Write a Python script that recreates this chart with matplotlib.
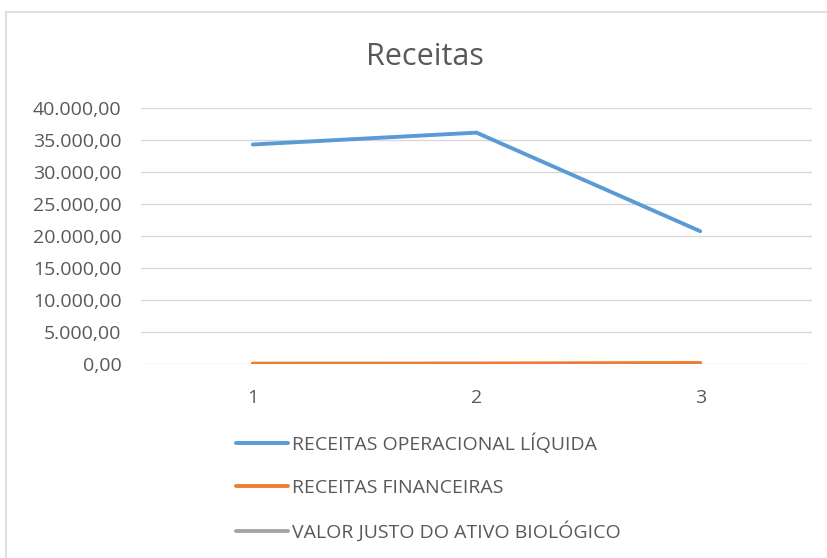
import matplotlib.pyplot as plt
from matplotlib.patches import Rectangle
from matplotlib.ticker import FuncFormatter, MultipleLocator

plt.rcParams["font.family"] = ["Open Sans", "DejaVu Sans"]

periodos = [1, 2, 3]
receita_operacional = [34300, 36150, 20750]
receitas_financeiras = [60, 80, 160]
valor_justo = [0, 0, 0]

series = [
    ("RECEITAS OPERACIONAL LÍQUIDA", receita_operacional, "#5B9BD5"),
    ("RECEITAS FINANCEIRAS", receitas_financeiras, "#ED7D31"),
    ("VALOR JUSTO DO ATIVO BIOLÓGICO", valor_justo, "#A5A5A5"),
]


def br_fmt(v, pos):
    s = f"{v:,.2f}"
    return s.replace(",", "X").replace(".", ",").replace("X", ".")


fig = plt.figure(figsize=(8.27, 5.58), dpi=100)
fig.patches.append(Rectangle((6 / 827, -0.1), 1.2, 1 - 12 / 558 + 0.1,
                             transform=fig.transFigure, fill=False,
                             edgecolor="#D9D9D9", linewidth=1.2))
ax = fig.add_axes([141 / 827, 1 - 364 / 558, 671 / 827, 256 / 558])

# gray first so orange sits on top, like the original
for name, vals, color in reversed(series):
    ax.plot(periodos, vals, color=color, linewidth=2.8, label=name,
            solid_capstyle="round")

ax.set_xlim(0.5, 3.5)
ax.set_ylim(0, 40000)
ax.yaxis.set_major_locator(MultipleLocator(5000))
ax.yaxis.set_major_formatter(FuncFormatter(br_fmt))
ax.set_xticks(periodos)
ax.grid(axis="y", color="#D9D9D9", linewidth=1)
ax.set_axisbelow(True)
for sp in ax.spines.values():
    sp.set_visible(False)
ax.tick_params(length=0, labelsize=14, colors="#595959")
ax.tick_params(axis="y", pad=14)
ax.tick_params(axis="x", pad=18)

fig.text(425 / 827, 1 - 57 / 558, "Receitas", ha="center", va="center",
         fontsize=22, color="#595959")

handles, labels = ax.get_legend_handles_labels()
fig.legend(handles[::-1], labels[::-1], loc="upper left",
           bbox_to_anchor=(226 / 827, 1 - 424 / 558), frameon=False,
           fontsize=14, labelcolor="#595959", handlelength=2.7,
           handletextpad=0.2, labelspacing=1.25, borderpad=0)

fig.savefig("out.png", dpi=100)
